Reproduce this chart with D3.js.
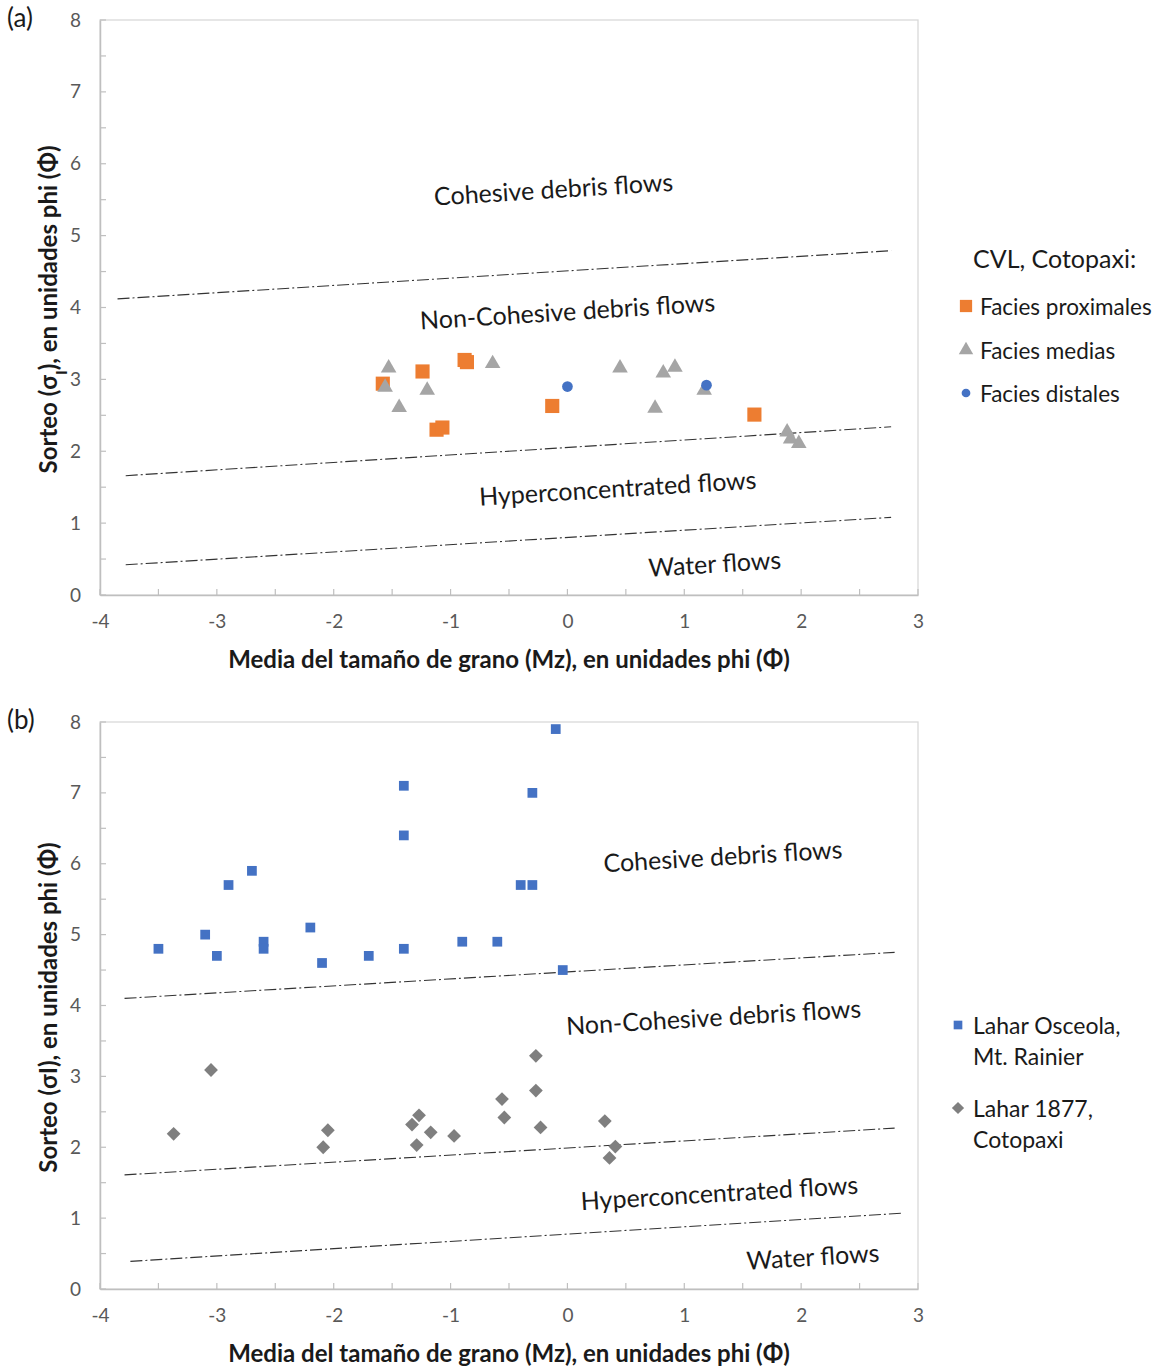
<!DOCTYPE html>
<html>
<head>
<meta charset="utf-8">
<script src="https://cdn.jsdelivr.net/npm/d3@7"></script>
<style>
  body { margin: 0; background: #fff; }
  svg { font-family: Lato, "Open Sans", sans-serif; }
</style>
</head>
<body>
<svg id="chart" width="1161" height="1368"></svg>
<script>
// ---- data: panel (a) CVL, Cotopaxi ----
const proxX = [-1.58, -1.24, -0.88, -0.86, -0.13, -1.12, -1.07, 1.60];
const proxY = [2.94, 3.11, 3.27, 3.24, 2.63, 2.30, 2.33, 2.51];
const mediaX = [-1.53, -1.56, -1.20, -1.44, -0.64, 0.45, 0.82, 0.92, 0.75, 1.17, 1.88, 1.91, 1.98];
const mediaY = [3.18, 2.91, 2.87, 2.63, 3.24, 3.18, 3.11, 3.19, 2.62, 2.87, 2.29, 2.19, 2.13];
const distX = [0.00, 1.19];
const distY = [2.90, 2.92];

// ---- data: panel (b) ----
const osceolaX = [-3.5, -3.1, -3.0, -2.9, -2.7, -2.6, -2.6, -2.2, -2.1, -1.7, -1.4, -1.4, -1.4, -0.9, -0.6, -0.4, -0.3, -0.3, -0.1, -0.04];
const osceolaY = [4.8, 5.0, 4.7, 5.7, 5.9, 4.9, 4.8, 5.1, 4.6, 4.7, 4.8, 6.4, 7.1, 4.9, 4.9, 5.7, 5.7, 7.0, 7.9, 4.5];
const lahar1877X = [-3.37, -3.05, -2.05, -2.09, -1.27, -1.33, -1.17, -1.29, -0.97, -0.27, -0.27, -0.56, -0.54, -0.23, 0.32, 0.41, 0.36];
const lahar1877Y = [2.19, 3.09, 2.24, 2.00, 2.45, 2.32, 2.21, 2.03, 2.16, 3.29, 2.80, 2.68, 2.42, 2.28, 2.37, 2.01, 1.85];

// ---- boundary lines [x1, y1, x2, y2] ----
const boundsA = [[-3.85, 4.12, 2.77, 4.79], [-3.78, 1.66, 2.77, 2.34], [-3.78, 0.42, 2.77, 1.08]];
const boundsB = [[-3.79, 4.10, 2.80, 4.75], [-3.79, 1.61, 2.80, 2.27], [-3.74, 0.39, 2.87, 1.07]];

// ---- flow regime labels ----
const regimes = ['Cohesive debris flows', 'Non-Cohesive debris flows', 'Hyperconcentrated flows', 'Water flows'];
const regimeA = [[-0.12, 5.66], [0.0, 3.96], [0.43, 1.50], [1.26, 0.45]];
const regimeB = [[1.33, 6.12], [1.25, 3.85], [1.30, 1.37], [2.10, 0.47]];

const xTicks = [-4, -3, -2, -1, 0, 1, 2, 3];
const yTicks = [0, 1, 2, 3, 4, 5, 6, 7, 8];

const svg = d3.select('#chart');
const zip = (xs, ys) => xs.map((x, i) => ({x, y: ys[i]}));
const txt = '#1a1a1a';

function drawPanel(o) {
  const x = d3.scaleLinear().domain([-4, 3]).range([100, 918]);
  const y = d3.scaleLinear().domain([0, 8]).range([o.bottom, o.top]);
  const g = svg.append('g');

  // plot area border
  g.append('rect')
    .attr('x', x(-4)).attr('y', y(8))
    .attr('width', x(3) - x(-4)).attr('height', y(0) - y(8))
    .attr('fill', 'none').attr('stroke', '#d9d9d9').attr('stroke-width', 1.3);

  // y axis: labels, ticks inward every 0.5
  const ya = g.append('g').attr('transform', `translate(${x(-4)},0)`)
    .call(d3.axisLeft(y).tickValues(yTicks).tickSize(0).tickPadding(19).tickFormat(d => String(d)));
  ya.select('.domain').attr('stroke', '#bfbfbf').attr('stroke-width', 1.5);
  ya.selectAll('text').attr('fill', '#595959').style('font-size', '19px').style('font-family', 'Lato, sans-serif');
  g.append('g').selectAll('line').data(d3.range(0, 8.01, 0.5)).join('line')
    .attr('x1', x(-4)).attr('x2', x(-4) + 6)
    .attr('y1', d => y(d)).attr('y2', d => y(d))
    .attr('stroke', '#bfbfbf').attr('stroke-width', 1.2);

  // x axis
  const xa = g.append('g').attr('transform', `translate(0,${y(0)})`)
    .call(d3.axisBottom(x).tickValues(xTicks).tickSize(0).tickPadding(20).tickFormat(d => String(d)));
  xa.select('.domain').attr('stroke', '#bfbfbf').attr('stroke-width', 1.5);
  xa.selectAll('text').attr('fill', '#595959').style('font-size', '19px').style('font-family', 'Lato, sans-serif');
  g.append('g').selectAll('line').data(d3.range(-4, 3.01, 0.5)).join('line')
    .attr('x1', d => x(d)).attr('x2', d => x(d))
    .attr('y1', y(0)).attr('y2', y(0) - 6)
    .attr('stroke', '#bfbfbf').attr('stroke-width', 1.2);

  // boundary lines
  g.append('g').selectAll('line').data(o.bounds).join('line')
    .attr('x1', d => x(d[0])).attr('y1', d => y(d[1]))
    .attr('x2', d => x(d[2])).attr('y2', d => y(d[3]))
    .attr('stroke', '#333').attr('stroke-width', 1.1)
    .attr('stroke-dasharray', '12,3,2,3');

  const b = o.bounds[0];
  const ang = Math.atan2(y(b[3]) - y(b[1]), x(b[2]) - x(b[0])) * 180 / Math.PI;
  g.append('g').selectAll('text').data(o.labels).join('text')
    .attr('transform', d => `translate(${x(d[0])},${y(d[1])}) rotate(${ang})`)
    .attr('text-anchor', 'middle').attr('dominant-baseline', 'central')
    .attr('fill', txt).style('font-size', '25px')
    .text((d, i) => regimes[i]);

  // axis titles
  g.append('text')
    .attr('x', 509).attr('y', y(0) + 73)
    .attr('text-anchor', 'middle').attr('fill', txt)
    .style('font-size', '24px').style('font-weight', 'bold')
    .text('Media del tamaño de grano (Mz), en unidades phi (Φ)');
  const yt = g.append('text')
    .attr('transform', `translate(57,${(y(0) + y(8)) / 2 + 2}) rotate(-90)`)
    .attr('text-anchor', 'middle').attr('fill', txt)
    .style('font-size', '24px').style('font-weight', 'bold');
  o.yTitle(yt);

  // panel letter
  svg.append('text').attr('x', 7).attr('y', o.top + 7)
    .attr('fill', txt).style('font-size', '26px').text(o.letter);

  return {x, y, g};
}

const sq = d3.symbol().type(d3.symbolSquare);
const tri = d3.symbol().type(d3.symbolTriangle);
const circ = d3.symbol().type(d3.symbolCircle);

// ---------- panel (a) ----------
const A = drawPanel({
  top: 20, bottom: 595, bounds: boundsA, labels: regimeA, letter: '(a)',
  yTitle: t => {
    t.append('tspan').text('Sorteo (σ');
    t.append('tspan').attr('baseline-shift', 'sub').style('font-size', '16px').text('I');
    t.append('tspan').text('), en unidades phi (Φ)');
  }
});

A.g.append('g').selectAll('path').data(zip(proxX, proxY)).join('path')
  .attr('transform', d => `translate(${A.x(d.x)},${A.y(d.y)})`)
  .attr('d', sq.size(200)).attr('fill', '#ed7d31');
A.g.append('g').selectAll('path').data(zip(mediaX, mediaY)).join('path')
  .attr('transform', d => `translate(${A.x(d.x)},${A.y(d.y) + 1.5})`)
  .attr('d', tri.size(105)).attr('fill', '#a5a5a5');
A.g.append('g').selectAll('path').data(zip(distX, distY)).join('path')
  .attr('transform', d => `translate(${A.x(d.x)},${A.y(d.y)})`)
  .attr('d', circ.size(90)).attr('fill', '#4472c4');

// legend (a)
const legA = svg.append('g').attr('fill', txt);
legA.append('text').attr('x', 973).attr('y', 258).attr('dominant-baseline', 'central')
  .style('font-size', '25px').text('CVL, Cotopaxi:');
const legItemsA = [
  {label: 'Facies proximales', sym: sq.size(150), color: '#ed7d31', y: 306},
  {label: 'Facies medias', sym: tri.size(90), color: '#a5a5a5', y: 350},
  {label: 'Facies distales', sym: circ.size(60), color: '#4472c4', y: 393}
];
legItemsA.forEach(d => {
  legA.append('path').attr('transform', `translate(966,${d.y})`).attr('d', d.sym).attr('fill', d.color);
  legA.append('text').attr('x', 980).attr('y', d.y).attr('dominant-baseline', 'central')
    .style('font-size', '22.5px').text(d.label);
});

// ---------- panel (b) ----------
const B = drawPanel({
  top: 722, bottom: 1289, bounds: boundsB, labels: regimeB, letter: '(b)',
  yTitle: t => t.text('Sorteo (σI), en unidades phi (Φ)')
});
B.g.append('g').selectAll('path').data(zip(osceolaX, osceolaY)).join('path')
  .attr('transform', d => `translate(${B.x(d.x)},${B.y(d.y)})`)
  .attr('d', sq.size(95)).attr('fill', '#4472c4');
B.g.append('g').selectAll('path').data(zip(lahar1877X, lahar1877Y)).join('path')
  .attr('transform', d => `translate(${B.x(d.x)},${B.y(d.y)}) rotate(45)`)
  .attr('d', sq.size(95)).attr('fill', '#7f7f7f');

// legend (b)
const legB = svg.append('g').attr('fill', txt);
const legItemsB = [
  {lines: ['Lahar Osceola,', 'Mt. Rainier'], sym: sq.size(80), rot: 0, color: '#4472c4', y: 1025},
  {lines: ['Lahar 1877,', 'Cotopaxi'], sym: sq.size(75), rot: 45, color: '#7f7f7f', y: 1108}
];
legItemsB.forEach(d => {
  legB.append('path').attr('transform', `translate(958,${d.y}) rotate(${d.rot})`).attr('d', d.sym).attr('fill', d.color);
  d.lines.forEach((l, i) => legB.append('text').attr('x', 973).attr('y', d.y + i * 31)
    .attr('dominant-baseline', 'central').style('font-size', '23px').text(l));
});
</script>
</body>
</html>
